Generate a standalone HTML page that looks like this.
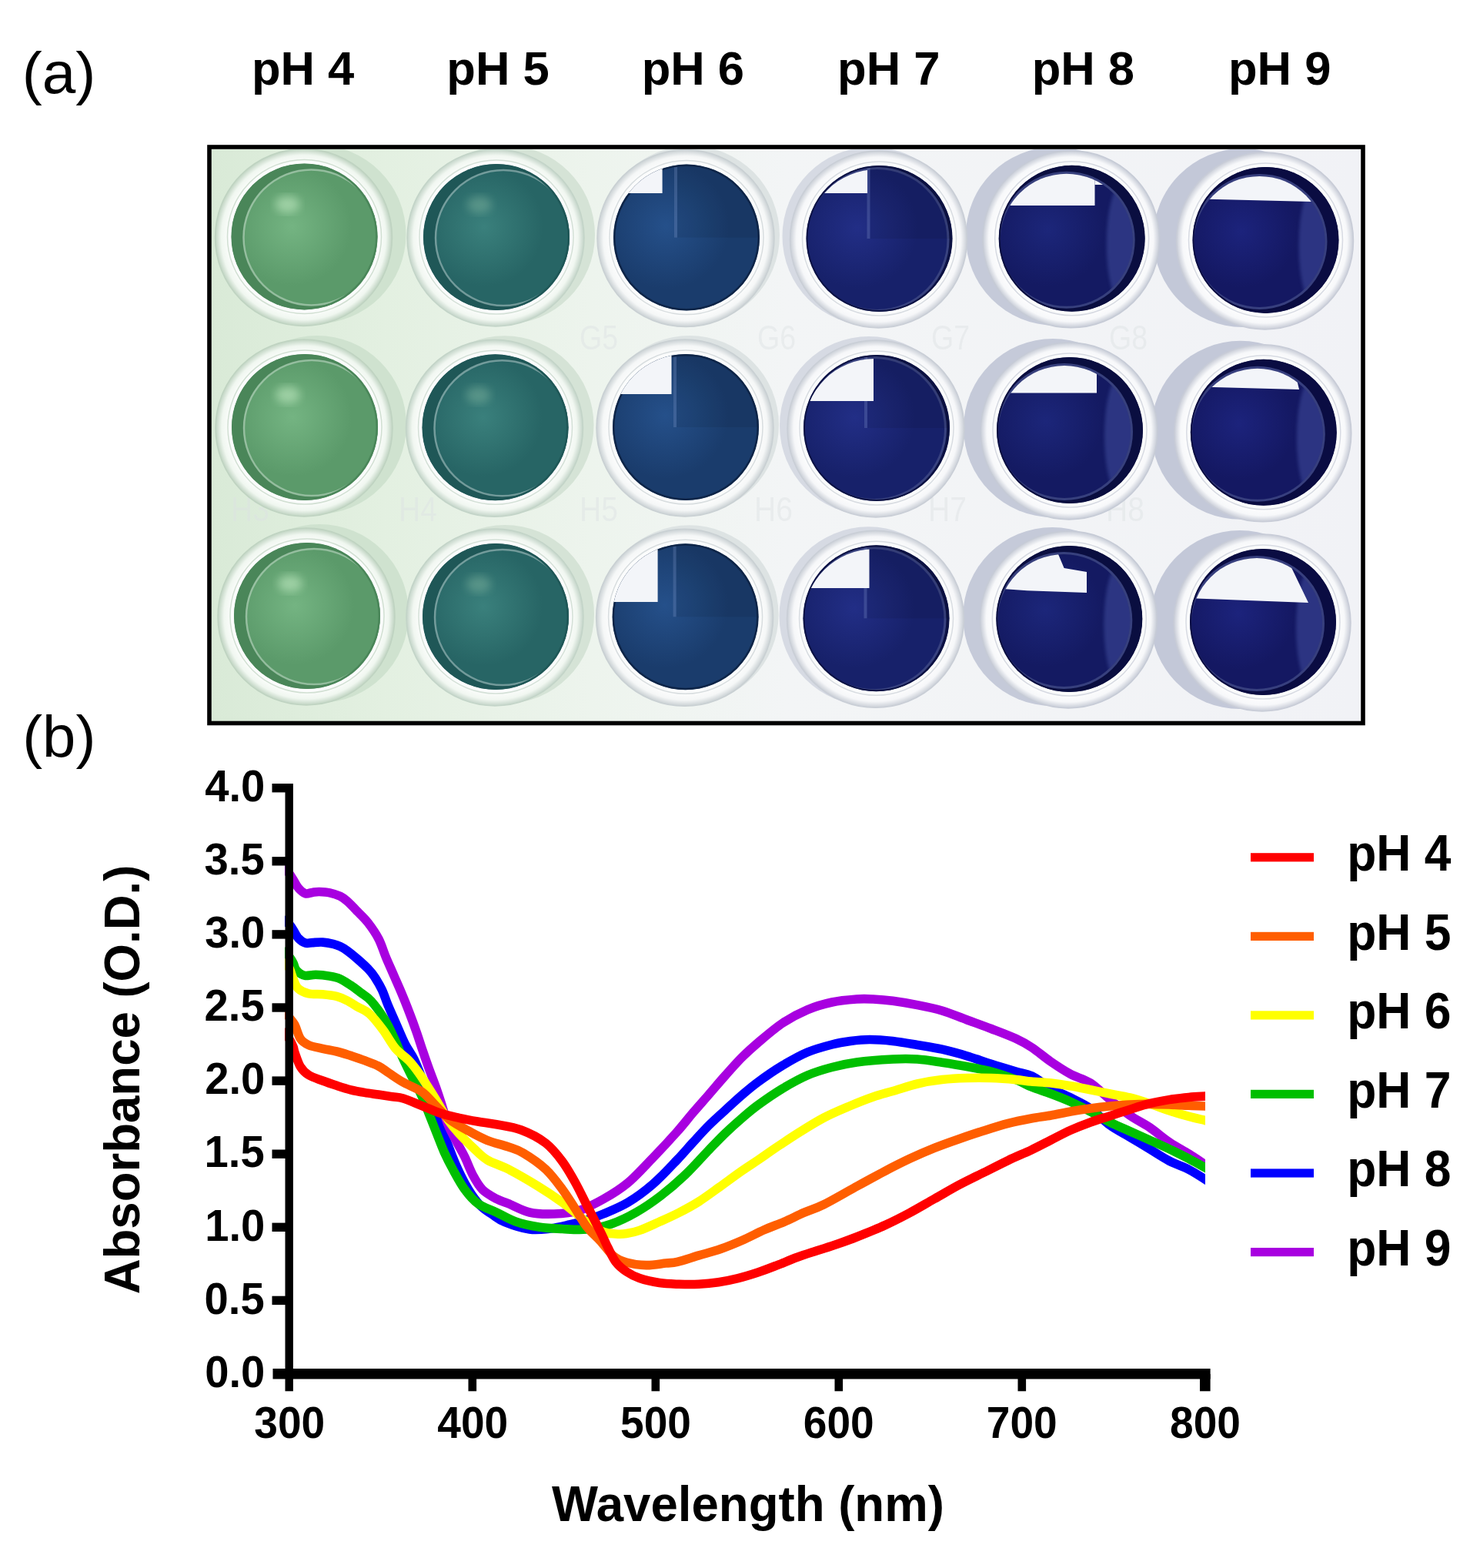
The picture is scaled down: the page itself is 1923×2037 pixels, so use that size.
<!DOCTYPE html>
<html><head><meta charset="utf-8"><title>pH indicator figure</title>
<style>html,body{margin:0;padding:0;background:#fff;} svg{display:block;}</style></head>
<body><svg xmlns="http://www.w3.org/2000/svg" width="1923" height="2037" viewBox="0 0 1923 2037">
<rect width="1923" height="2037" fill="#fff"/>
<defs>
<clipPath id="pclip"><rect x="275" y="194" width="1493" height="743"/></clipPath>
<linearGradient id="bgg" x1="0" y1="0" x2="1" y2="0"><stop offset="0" stop-color="#d9ead7"/><stop offset="0.15" stop-color="#e3f0e1"/><stop offset="0.33" stop-color="#edf4ed"/><stop offset="0.5" stop-color="#f3f5f6"/><stop offset="1" stop-color="#f1f2f6"/></linearGradient>
<filter id="blur2" x="-10%" y="-10%" width="120%" height="120%"><feGaussianBlur stdDeviation="2"/></filter>
<filter id="blur6" x="-20%" y="-20%" width="140%" height="140%"><feGaussianBlur stdDeviation="6"/></filter>
<radialGradient id="lg0" cx="0.36" cy="0.42" r="0.72"><stop offset="0" stop-color="#74b482"/><stop offset="0.6" stop-color="#5b9a6a"/><stop offset="1" stop-color="#5b9a6a"/></radialGradient>
<radialGradient id="rg0" cx="0.5" cy="0.5" r="0.5"><stop offset="0.82" stop-color="#ffffff"/><stop offset="0.93" stop-color="#f0f7f0"/><stop offset="1" stop-color="#bfd3c1"/></radialGradient>
<radialGradient id="lg1" cx="0.36" cy="0.42" r="0.72"><stop offset="0" stop-color="#3a807c"/><stop offset="0.6" stop-color="#276565"/><stop offset="1" stop-color="#276565"/></radialGradient>
<radialGradient id="rg1" cx="0.5" cy="0.5" r="0.5"><stop offset="0.82" stop-color="#ffffff"/><stop offset="0.93" stop-color="#f1f7f1"/><stop offset="1" stop-color="#c3d4c8"/></radialGradient>
<radialGradient id="lg2" cx="0.36" cy="0.42" r="0.72"><stop offset="0" stop-color="#25508a"/><stop offset="0.6" stop-color="#1a3c6c"/><stop offset="1" stop-color="#1a3c6c"/></radialGradient>
<radialGradient id="rg2" cx="0.5" cy="0.5" r="0.5"><stop offset="0.82" stop-color="#ffffff"/><stop offset="0.93" stop-color="#f5f7f7"/><stop offset="1" stop-color="#c9d0d3"/></radialGradient>
<radialGradient id="lg3" cx="0.36" cy="0.42" r="0.72"><stop offset="0" stop-color="#222e86"/><stop offset="0.6" stop-color="#17216a"/><stop offset="1" stop-color="#17216a"/></radialGradient>
<radialGradient id="rg3" cx="0.5" cy="0.5" r="0.5"><stop offset="0.82" stop-color="#ffffff"/><stop offset="0.93" stop-color="#f6f7f9"/><stop offset="1" stop-color="#c9ced6"/></radialGradient>
<radialGradient id="lg4" cx="0.36" cy="0.42" r="0.72"><stop offset="0" stop-color="#1c267a"/><stop offset="0.6" stop-color="#141a62"/><stop offset="1" stop-color="#141a62"/></radialGradient>
<radialGradient id="rg4" cx="0.5" cy="0.5" r="0.5"><stop offset="0.82" stop-color="#ffffff"/><stop offset="0.93" stop-color="#f7f8fa"/><stop offset="1" stop-color="#c6cbd6"/></radialGradient>
<radialGradient id="lg5" cx="0.36" cy="0.42" r="0.72"><stop offset="0" stop-color="#1c237c"/><stop offset="0.6" stop-color="#141862"/><stop offset="1" stop-color="#141862"/></radialGradient>
<radialGradient id="rg5" cx="0.5" cy="0.5" r="0.5"><stop offset="0.82" stop-color="#ffffff"/><stop offset="0.93" stop-color="#f7f8fa"/><stop offset="1" stop-color="#c8ccd7"/></radialGradient>
<clipPath id="lc00"><circle cx="395.5" cy="307.4" r="95"/></clipPath>
<clipPath id="lc01"><circle cx="645" cy="308" r="95"/></clipPath>
<clipPath id="lc02"><circle cx="892" cy="308.6" r="95"/></clipPath>
<clipPath id="lc03"><circle cx="1142.5" cy="310" r="95"/></clipPath>
<clipPath id="ic03"><circle cx="1139.5" cy="311" r="91"/></clipPath>
<clipPath id="lc04"><circle cx="1392.7" cy="309.8" r="95"/></clipPath>
<clipPath id="ic04"><circle cx="1385.7" cy="311.8" r="86"/></clipPath>
<clipPath id="lc05"><circle cx="1644.5" cy="311.9" r="95"/></clipPath>
<clipPath id="ic05"><circle cx="1636.5" cy="313.9" r="85"/></clipPath>
<clipPath id="lc10"><circle cx="396" cy="555" r="95"/></clipPath>
<clipPath id="lc11"><circle cx="643.5" cy="555.3" r="95"/></clipPath>
<clipPath id="lc12"><circle cx="891" cy="555" r="95"/></clipPath>
<clipPath id="lc13"><circle cx="1139" cy="556" r="95"/></clipPath>
<clipPath id="ic13"><circle cx="1136" cy="557" r="91"/></clipPath>
<clipPath id="lc14"><circle cx="1390" cy="559" r="95"/></clipPath>
<clipPath id="ic14"><circle cx="1383" cy="561" r="86"/></clipPath>
<clipPath id="lc15"><circle cx="1641.8" cy="561.8" r="95"/></clipPath>
<clipPath id="ic15"><circle cx="1633.8" cy="563.8" r="85"/></clipPath>
<clipPath id="lc20"><circle cx="399" cy="800" r="95"/></clipPath>
<clipPath id="lc21"><circle cx="644" cy="801" r="95"/></clipPath>
<clipPath id="lc22"><circle cx="890.6" cy="801.3" r="95"/></clipPath>
<clipPath id="lc23"><circle cx="1138.5" cy="803.3" r="95"/></clipPath>
<clipPath id="ic23"><circle cx="1135.5" cy="804.3" r="91"/></clipPath>
<clipPath id="lc24"><circle cx="1389.3" cy="804" r="95"/></clipPath>
<clipPath id="ic24"><circle cx="1382.3" cy="806" r="86"/></clipPath>
<clipPath id="lc25"><circle cx="1641" cy="808" r="95"/></clipPath>
<clipPath id="ic25"><circle cx="1633" cy="810" r="85"/></clipPath>
</defs>
<g clip-path="url(#pclip)">
<rect x="275" y="194" width="1493" height="743" fill="url(#bgg)"/>
<circle cx="411.5" cy="304.4" r="116" fill="#cfe2cf"/>
<circle cx="657" cy="305" r="116" fill="#d5e3d6"/>
<circle cx="897" cy="305.6" r="116" fill="#dde3e3"/>
<circle cx="1132.5" cy="307" r="116" fill="#d6dae3"/>
<circle cx="1370.7" cy="306.8" r="116" fill="#c5cad9"/>
<circle cx="1614.5" cy="308.9" r="116" fill="#c3c8d8"/>
<circle cx="412" cy="552" r="116" fill="#cfe2cf"/>
<circle cx="655.5" cy="552.3" r="116" fill="#d5e3d6"/>
<circle cx="896" cy="552" r="116" fill="#dde3e3"/>
<circle cx="1129" cy="553" r="116" fill="#d6dae3"/>
<circle cx="1368" cy="556" r="116" fill="#c5cad9"/>
<circle cx="1611.8" cy="558.8" r="116" fill="#c3c8d8"/>
<circle cx="415" cy="797" r="116" fill="#cfe2cf"/>
<circle cx="656" cy="798" r="116" fill="#d5e3d6"/>
<circle cx="895.6" cy="798.3" r="116" fill="#dde3e3"/>
<circle cx="1128.5" cy="800.3" r="116" fill="#d6dae3"/>
<circle cx="1367.3" cy="801" r="116" fill="#c5cad9"/>
<circle cx="1611" cy="805" r="116" fill="#c3c8d8"/>
<g font-family="Liberation Sans, Arial, sans-serif" font-size="44" fill="#dde2e4" opacity="0.45">
<text x="753" y="454" textLength="50" lengthAdjust="spacingAndGlyphs">G5</text>
<text x="984" y="454" textLength="50" lengthAdjust="spacingAndGlyphs">G6</text>
<text x="1210" y="454" textLength="50" lengthAdjust="spacingAndGlyphs">G7</text>
<text x="1441" y="454" textLength="50" lengthAdjust="spacingAndGlyphs">G8</text>
<text x="300" y="677" textLength="50" lengthAdjust="spacingAndGlyphs">H3</text>
<text x="518" y="677" textLength="50" lengthAdjust="spacingAndGlyphs">H4</text>
<text x="753" y="677" textLength="50" lengthAdjust="spacingAndGlyphs">H5</text>
<text x="980" y="677" textLength="50" lengthAdjust="spacingAndGlyphs">H6</text>
<text x="1206" y="677" textLength="50" lengthAdjust="spacingAndGlyphs">H7</text>
<text x="1437" y="677" textLength="50" lengthAdjust="spacingAndGlyphs">H8</text>
</g>
<circle cx="394.5" cy="308.4" r="115" fill="url(#rg0)"/>
<circle cx="394.5" cy="308.4" r="115" fill="none" stroke="#bfd3c1" stroke-width="1.5"/>
<circle cx="395.5" cy="307.4" r="100" fill="#fbfcfc" stroke="#bfd3c1" stroke-opacity="0.7" stroke-width="1.5"/>
<g clip-path="url(#lc00)">
<circle cx="395.5" cy="307.4" r="95" fill="#4a8659"/>
<circle cx="404.5" cy="308.4" r="89" fill="url(#lg0)"/>
<circle cx="404.5" cy="308.4" r="88" fill="none" stroke="#ffffff" stroke-opacity="0.35" stroke-width="2.5"/>
<ellipse cx="373.5" cy="265.4" rx="16" ry="11" fill="#c8f0c8" opacity="0.55" filter="url(#blur6)"/>
<circle cx="395.5" cy="307.4" r="95" fill="none" stroke="#4a8659" stroke-width="5"/>
<g>
</g>
</g>
<circle cx="644" cy="309" r="115" fill="url(#rg1)"/>
<circle cx="644" cy="309" r="115" fill="none" stroke="#c3d4c8" stroke-width="1.5"/>
<circle cx="645" cy="308" r="100" fill="#fbfcfc" stroke="#c3d4c8" stroke-opacity="0.7" stroke-width="1.5"/>
<g clip-path="url(#lc01)">
<circle cx="645" cy="308" r="95" fill="#1f5757"/>
<circle cx="654" cy="309" r="89" fill="url(#lg1)"/>
<circle cx="654" cy="309" r="88" fill="none" stroke="#ffffff" stroke-opacity="0.35" stroke-width="2.5"/>
<ellipse cx="623" cy="266" rx="16" ry="11" fill="#c8f0c8" opacity="0.25" filter="url(#blur6)"/>
<circle cx="645" cy="308" r="95" fill="none" stroke="#1f5757" stroke-width="5"/>
<g>
</g>
</g>
<circle cx="891" cy="309.6" r="115" fill="url(#rg2)"/>
<circle cx="891" cy="309.6" r="115" fill="none" stroke="#c9d0d3" stroke-width="1.5"/>
<circle cx="892" cy="308.6" r="100" fill="#fbfcfc" stroke="#c9d0d3" stroke-opacity="0.7" stroke-width="1.5"/>
<g clip-path="url(#lc02)">
<circle cx="892" cy="308.6" r="95" fill="url(#lg2)"/>
<rect x="880" y="208.60000000000002" width="120" height="100" fill="#000" opacity="0.07"/>
<rect x="876" y="212.60000000000002" width="4" height="96" fill="#8aa0d0" opacity="0.25"/>
<circle cx="892" cy="308.6" r="95" fill="none" stroke="#0e2548" stroke-width="5"/>
<g>
<polygon points="780.0,180.0 860.6,180.0 860.6,251.0 780.0,251.0" fill="#f3f5f9" />
</g>
</g>
<circle cx="1141.5" cy="311" r="115" fill="url(#rg3)"/>
<circle cx="1141.5" cy="311" r="115" fill="none" stroke="#c9ced6" stroke-width="1.5"/>
<circle cx="1142.5" cy="310" r="100" fill="#fbfcfc" stroke="#c9ced6" stroke-opacity="0.7" stroke-width="1.5"/>
<g clip-path="url(#lc03)">
<circle cx="1142.5" cy="310" r="95" fill="#0c1244"/>
<circle cx="1139.5" cy="311" r="94" fill="#6f7fc8" opacity="0.45"/>
<circle cx="1139.5" cy="311" r="91" fill="url(#lg3)"/>
<rect x="1130.5" y="210" width="120" height="100" fill="#000" opacity="0.07"/>
<rect x="1126.5" y="214" width="4" height="96" fill="#8aa0d0" opacity="0.25"/>
<circle cx="1142.5" cy="310" r="95" fill="none" stroke="#0c1244" stroke-width="4"/>
<g clip-path="url(#ic03)">
<polygon points="1030.0,200.0 1127.0,200.0 1127.0,251.0 1030.0,251.0" fill="#f3f5f9" />
</g>
</g>
<circle cx="1391.7" cy="310.8" r="115" fill="url(#rg4)"/>
<circle cx="1391.7" cy="310.8" r="115" fill="none" stroke="#c6cbd6" stroke-width="1.5"/>
<circle cx="1392.7" cy="309.8" r="100" fill="#fbfcfc" stroke="#c6cbd6" stroke-opacity="0.7" stroke-width="1.5"/>
<g clip-path="url(#lc04)">
<circle cx="1392.7" cy="309.8" r="95" fill="#0a0e40"/>
<circle cx="1385.7" cy="311.8" r="89" fill="#6f7fc8" opacity="0.45"/>
<circle cx="1385.7" cy="311.8" r="86" fill="url(#lg4)"/>
<g clip-path="url(#ic04)"><ellipse cx="1459.7" cy="316.8" rx="22" ry="80" fill="#5a6cc0" opacity="0.35" filter="url(#blur2)"/></g>
<circle cx="1392.7" cy="309.8" r="95" fill="none" stroke="#0a0e40" stroke-width="4"/>
<g clip-path="url(#ic04)">
<polygon points="1290.0,200.0 1422.5,200.0 1422.5,240.0 1455.0,240.0 1455.0,200.0" fill="#f3f5f9" />
<polygon points="1290.0,200.0 1422.5,200.0 1422.5,267.0 1290.0,267.0" fill="#f3f5f9" />
</g>
</g>
<circle cx="1643.5" cy="312.9" r="115" fill="url(#rg5)"/>
<circle cx="1643.5" cy="312.9" r="115" fill="none" stroke="#c8ccd7" stroke-width="1.5"/>
<circle cx="1644.5" cy="311.9" r="100" fill="#fbfcfc" stroke="#c8ccd7" stroke-opacity="0.7" stroke-width="1.5"/>
<g clip-path="url(#lc05)">
<circle cx="1644.5" cy="311.9" r="95" fill="#0a0c42"/>
<circle cx="1636.5" cy="313.9" r="88" fill="#6f7fc8" opacity="0.45"/>
<circle cx="1636.5" cy="313.9" r="85" fill="url(#lg5)"/>
<g clip-path="url(#ic05)"><ellipse cx="1709.5" cy="318.9" rx="22" ry="80" fill="#5a6cc0" opacity="0.35" filter="url(#blur2)"/></g>
<circle cx="1644.5" cy="311.9" r="95" fill="none" stroke="#0a0c42" stroke-width="4"/>
<g clip-path="url(#ic05)">
<polygon points="1540.0,200.0 1690.0,200.0 1704.0,262.0 1540.0,258.0" fill="#f3f5f9" />
</g>
</g>
<circle cx="395" cy="556" r="115" fill="url(#rg0)"/>
<circle cx="395" cy="556" r="115" fill="none" stroke="#bfd3c1" stroke-width="1.5"/>
<circle cx="396" cy="555" r="100" fill="#fbfcfc" stroke="#bfd3c1" stroke-opacity="0.7" stroke-width="1.5"/>
<g clip-path="url(#lc10)">
<circle cx="396" cy="555" r="95" fill="#4a8659"/>
<circle cx="405" cy="556" r="89" fill="url(#lg0)"/>
<circle cx="405" cy="556" r="88" fill="none" stroke="#ffffff" stroke-opacity="0.35" stroke-width="2.5"/>
<ellipse cx="374" cy="513" rx="16" ry="11" fill="#c8f0c8" opacity="0.55" filter="url(#blur6)"/>
<circle cx="396" cy="555" r="95" fill="none" stroke="#4a8659" stroke-width="5"/>
<g>
</g>
</g>
<circle cx="642.5" cy="556.3" r="115" fill="url(#rg1)"/>
<circle cx="642.5" cy="556.3" r="115" fill="none" stroke="#c3d4c8" stroke-width="1.5"/>
<circle cx="643.5" cy="555.3" r="100" fill="#fbfcfc" stroke="#c3d4c8" stroke-opacity="0.7" stroke-width="1.5"/>
<g clip-path="url(#lc11)">
<circle cx="643.5" cy="555.3" r="95" fill="#1f5757"/>
<circle cx="652.5" cy="556.3" r="89" fill="url(#lg1)"/>
<circle cx="652.5" cy="556.3" r="88" fill="none" stroke="#ffffff" stroke-opacity="0.35" stroke-width="2.5"/>
<ellipse cx="621.5" cy="513.3" rx="16" ry="11" fill="#c8f0c8" opacity="0.25" filter="url(#blur6)"/>
<circle cx="643.5" cy="555.3" r="95" fill="none" stroke="#1f5757" stroke-width="5"/>
<g>
</g>
</g>
<circle cx="890" cy="556" r="115" fill="url(#rg2)"/>
<circle cx="890" cy="556" r="115" fill="none" stroke="#c9d0d3" stroke-width="1.5"/>
<circle cx="891" cy="555" r="100" fill="#fbfcfc" stroke="#c9d0d3" stroke-opacity="0.7" stroke-width="1.5"/>
<g clip-path="url(#lc12)">
<circle cx="891" cy="555" r="95" fill="url(#lg2)"/>
<rect x="879" y="455" width="120" height="100" fill="#000" opacity="0.07"/>
<rect x="875" y="459" width="4" height="96" fill="#8aa0d0" opacity="0.25"/>
<circle cx="891" cy="555" r="95" fill="none" stroke="#0e2548" stroke-width="5"/>
<g>
<polygon points="780.0,440.0 872.5,440.0 872.5,512.0 780.0,512.0" fill="#f3f5f9" />
</g>
</g>
<circle cx="1138" cy="557" r="115" fill="url(#rg3)"/>
<circle cx="1138" cy="557" r="115" fill="none" stroke="#c9ced6" stroke-width="1.5"/>
<circle cx="1139" cy="556" r="100" fill="#fbfcfc" stroke="#c9ced6" stroke-opacity="0.7" stroke-width="1.5"/>
<g clip-path="url(#lc13)">
<circle cx="1139" cy="556" r="95" fill="#0c1244"/>
<circle cx="1136" cy="557" r="94" fill="#6f7fc8" opacity="0.45"/>
<circle cx="1136" cy="557" r="91" fill="url(#lg3)"/>
<rect x="1127" y="456" width="120" height="100" fill="#000" opacity="0.07"/>
<rect x="1123" y="460" width="4" height="96" fill="#8aa0d0" opacity="0.25"/>
<circle cx="1139" cy="556" r="95" fill="none" stroke="#0c1244" stroke-width="4"/>
<g clip-path="url(#ic13)">
<polygon points="1030.0,440.0 1135.0,440.0 1135.0,521.0 1030.0,521.0" fill="#f3f5f9" />
</g>
</g>
<circle cx="1389" cy="560" r="115" fill="url(#rg4)"/>
<circle cx="1389" cy="560" r="115" fill="none" stroke="#c6cbd6" stroke-width="1.5"/>
<circle cx="1390" cy="559" r="100" fill="#fbfcfc" stroke="#c6cbd6" stroke-opacity="0.7" stroke-width="1.5"/>
<g clip-path="url(#lc14)">
<circle cx="1390" cy="559" r="95" fill="#0a0e40"/>
<circle cx="1383" cy="561" r="89" fill="#6f7fc8" opacity="0.45"/>
<circle cx="1383" cy="561" r="86" fill="url(#lg4)"/>
<g clip-path="url(#ic14)"><ellipse cx="1457" cy="566" rx="22" ry="80" fill="#5a6cc0" opacity="0.35" filter="url(#blur2)"/></g>
<circle cx="1390" cy="559" r="95" fill="none" stroke="#0a0e40" stroke-width="4"/>
<g clip-path="url(#ic14)">
<polygon points="1290.0,440.0 1425.0,440.0 1425.0,486.0 1445.0,486.0 1445.0,440.0" fill="#f3f5f9" />
<polygon points="1290.0,440.0 1425.0,440.0 1425.0,510.4 1290.0,510.4" fill="#f3f5f9" />
</g>
</g>
<circle cx="1640.8" cy="562.8" r="115" fill="url(#rg5)"/>
<circle cx="1640.8" cy="562.8" r="115" fill="none" stroke="#c8ccd7" stroke-width="1.5"/>
<circle cx="1641.8" cy="561.8" r="100" fill="#fbfcfc" stroke="#c8ccd7" stroke-opacity="0.7" stroke-width="1.5"/>
<g clip-path="url(#lc15)">
<circle cx="1641.8" cy="561.8" r="95" fill="#0a0c42"/>
<circle cx="1633.8" cy="563.8" r="88" fill="#6f7fc8" opacity="0.45"/>
<circle cx="1633.8" cy="563.8" r="85" fill="url(#lg5)"/>
<g clip-path="url(#ic15)"><ellipse cx="1706.8" cy="568.8" rx="22" ry="80" fill="#5a6cc0" opacity="0.35" filter="url(#blur2)"/></g>
<circle cx="1641.8" cy="561.8" r="95" fill="none" stroke="#0a0c42" stroke-width="4"/>
<g clip-path="url(#ic15)">
<polygon points="1540.0,450.0 1675.0,450.0 1688.0,506.0 1540.0,502.0" fill="#f3f5f9" />
</g>
</g>
<circle cx="398" cy="801" r="115" fill="url(#rg0)"/>
<circle cx="398" cy="801" r="115" fill="none" stroke="#bfd3c1" stroke-width="1.5"/>
<circle cx="399" cy="800" r="100" fill="#fbfcfc" stroke="#bfd3c1" stroke-opacity="0.7" stroke-width="1.5"/>
<g clip-path="url(#lc20)">
<circle cx="399" cy="800" r="95" fill="#4a8659"/>
<circle cx="408" cy="801" r="89" fill="url(#lg0)"/>
<circle cx="408" cy="801" r="88" fill="none" stroke="#ffffff" stroke-opacity="0.35" stroke-width="2.5"/>
<ellipse cx="377" cy="758" rx="16" ry="11" fill="#c8f0c8" opacity="0.55" filter="url(#blur6)"/>
<circle cx="399" cy="800" r="95" fill="none" stroke="#4a8659" stroke-width="5"/>
<g>
</g>
</g>
<circle cx="643" cy="802" r="115" fill="url(#rg1)"/>
<circle cx="643" cy="802" r="115" fill="none" stroke="#c3d4c8" stroke-width="1.5"/>
<circle cx="644" cy="801" r="100" fill="#fbfcfc" stroke="#c3d4c8" stroke-opacity="0.7" stroke-width="1.5"/>
<g clip-path="url(#lc21)">
<circle cx="644" cy="801" r="95" fill="#1f5757"/>
<circle cx="653" cy="802" r="89" fill="url(#lg1)"/>
<circle cx="653" cy="802" r="88" fill="none" stroke="#ffffff" stroke-opacity="0.35" stroke-width="2.5"/>
<ellipse cx="622" cy="759" rx="16" ry="11" fill="#c8f0c8" opacity="0.25" filter="url(#blur6)"/>
<circle cx="644" cy="801" r="95" fill="none" stroke="#1f5757" stroke-width="5"/>
<g>
</g>
</g>
<circle cx="889.6" cy="802.3" r="115" fill="url(#rg2)"/>
<circle cx="889.6" cy="802.3" r="115" fill="none" stroke="#c9d0d3" stroke-width="1.5"/>
<circle cx="890.6" cy="801.3" r="100" fill="#fbfcfc" stroke="#c9d0d3" stroke-opacity="0.7" stroke-width="1.5"/>
<g clip-path="url(#lc22)">
<circle cx="890.6" cy="801.3" r="95" fill="url(#lg2)"/>
<rect x="878.6" y="701.3" width="120" height="100" fill="#000" opacity="0.07"/>
<rect x="874.6" y="705.3" width="4" height="96" fill="#8aa0d0" opacity="0.25"/>
<circle cx="890.6" cy="801.3" r="95" fill="none" stroke="#0e2548" stroke-width="5"/>
<g>
<polygon points="780.0,690.0 854.6,690.0 854.6,782.0 780.0,782.0" fill="#f3f5f9" />
</g>
</g>
<circle cx="1137.5" cy="804.3" r="115" fill="url(#rg3)"/>
<circle cx="1137.5" cy="804.3" r="115" fill="none" stroke="#c9ced6" stroke-width="1.5"/>
<circle cx="1138.5" cy="803.3" r="100" fill="#fbfcfc" stroke="#c9ced6" stroke-opacity="0.7" stroke-width="1.5"/>
<g clip-path="url(#lc23)">
<circle cx="1138.5" cy="803.3" r="95" fill="#0c1244"/>
<circle cx="1135.5" cy="804.3" r="94" fill="#6f7fc8" opacity="0.45"/>
<circle cx="1135.5" cy="804.3" r="91" fill="url(#lg3)"/>
<rect x="1126.5" y="703.3" width="120" height="100" fill="#000" opacity="0.07"/>
<rect x="1122.5" y="707.3" width="4" height="96" fill="#8aa0d0" opacity="0.25"/>
<circle cx="1138.5" cy="803.3" r="95" fill="none" stroke="#0c1244" stroke-width="4"/>
<g clip-path="url(#ic23)">
<polygon points="1030.0,690.0 1129.5,690.0 1129.5,764.0 1030.0,764.0" fill="#f3f5f9" />
</g>
</g>
<circle cx="1388.3" cy="805" r="115" fill="url(#rg4)"/>
<circle cx="1388.3" cy="805" r="115" fill="none" stroke="#c6cbd6" stroke-width="1.5"/>
<circle cx="1389.3" cy="804" r="100" fill="#fbfcfc" stroke="#c6cbd6" stroke-opacity="0.7" stroke-width="1.5"/>
<g clip-path="url(#lc24)">
<circle cx="1389.3" cy="804" r="95" fill="#0a0e40"/>
<circle cx="1382.3" cy="806" r="89" fill="#6f7fc8" opacity="0.45"/>
<circle cx="1382.3" cy="806" r="86" fill="url(#lg4)"/>
<g clip-path="url(#ic24)"><ellipse cx="1456.3" cy="811" rx="22" ry="80" fill="#5a6cc0" opacity="0.35" filter="url(#blur2)"/></g>
<circle cx="1389.3" cy="804" r="95" fill="none" stroke="#0a0e40" stroke-width="4"/>
<g clip-path="url(#ic24)">
<polygon points="1290.0,690.0 1374.6,690.0 1374.6,719.0 1382.6,738.0 1412.0,743.0 1412.0,770.0 1334.6,767.3 1290.0,764.0" fill="#f3f5f9" />
</g>
</g>
<circle cx="1640" cy="809" r="115" fill="url(#rg5)"/>
<circle cx="1640" cy="809" r="115" fill="none" stroke="#c8ccd7" stroke-width="1.5"/>
<circle cx="1641" cy="808" r="100" fill="#fbfcfc" stroke="#c8ccd7" stroke-opacity="0.7" stroke-width="1.5"/>
<g clip-path="url(#lc25)">
<circle cx="1641" cy="808" r="95" fill="#0a0c42"/>
<circle cx="1633" cy="810" r="88" fill="#6f7fc8" opacity="0.45"/>
<circle cx="1633" cy="810" r="85" fill="url(#lg5)"/>
<g clip-path="url(#ic25)"><ellipse cx="1706" cy="815" rx="22" ry="80" fill="#5a6cc0" opacity="0.35" filter="url(#blur2)"/></g>
<circle cx="1641" cy="808" r="95" fill="none" stroke="#0a0c42" stroke-width="4"/>
<g clip-path="url(#ic25)">
<polygon points="1540.0,700.0 1660.0,700.0 1700.0,783.0 1540.0,777.0" fill="#f3f5f9" />
</g>
</g>
</g>
<rect x="272" y="191" width="1499" height="748.5" fill="none" stroke="#000" stroke-width="5.6"/>
<g font-family="Liberation Sans, Arial, sans-serif" font-size="100" fill="#000">
<text transform="translate(28.70,121.20) scale(0.7827,0.7617)" font-weight="normal" >(a)</text>
<text transform="translate(29.13,983.16) scale(0.7791,0.7543)" font-weight="normal" >(b)</text>
<text transform="translate(326.89,110.43) scale(0.6158,0.6178)" font-weight="bold" text-anchor="start">pH 4</text>
<text transform="translate(580.29,110.43) scale(0.6158,0.6178)" font-weight="bold" text-anchor="start">pH 5</text>
<text transform="translate(833.69,110.43) scale(0.6158,0.6178)" font-weight="bold" text-anchor="start">pH 6</text>
<text transform="translate(1088.09,110.43) scale(0.6158,0.6178)" font-weight="bold" text-anchor="start">pH 7</text>
<text transform="translate(1340.69,110.43) scale(0.6158,0.6178)" font-weight="bold" text-anchor="start">pH 8</text>
<text transform="translate(1595.99,110.43) scale(0.6158,0.6178)" font-weight="bold" text-anchor="start">pH 9</text>
<text transform="translate(266.13,1801.76) scale(0.5620,0.5780)" font-weight="bold" text-anchor="start">0.0</text>
<text transform="translate(265.57,1706.66) scale(0.5620,0.5780)" font-weight="bold" text-anchor="start">0.5</text>
<text transform="translate(266.13,1611.56) scale(0.5620,0.5780)" font-weight="bold" text-anchor="start">1.0</text>
<text transform="translate(265.57,1515.88) scale(0.5620,0.5780)" font-weight="bold" text-anchor="start">1.5</text>
<text transform="translate(266.13,1421.36) scale(0.5620,0.5780)" font-weight="bold" text-anchor="start">2.0</text>
<text transform="translate(265.57,1326.26) scale(0.5620,0.5780)" font-weight="bold" text-anchor="start">2.5</text>
<text transform="translate(266.13,1231.16) scale(0.5620,0.5780)" font-weight="bold" text-anchor="start">3.0</text>
<text transform="translate(265.57,1136.06) scale(0.5620,0.5780)" font-weight="bold" text-anchor="start">3.5</text>
<text transform="translate(266.13,1040.96) scale(0.5620,0.5780)" font-weight="bold" text-anchor="start">4.0</text>
<text transform="translate(330.29,1868.09) scale(0.5510,0.5770)" font-weight="bold" text-anchor="start">300</text>
<text transform="translate(568.29,1868.09) scale(0.5510,0.5770)" font-weight="bold" text-anchor="start">400</text>
<text transform="translate(806.02,1868.09) scale(0.5510,0.5770)" font-weight="bold" text-anchor="start">500</text>
<text transform="translate(1043.74,1868.09) scale(0.5510,0.5770)" font-weight="bold" text-anchor="start">600</text>
<text transform="translate(1281.74,1868.09) scale(0.5510,0.5770)" font-weight="bold" text-anchor="start">700</text>
<text transform="translate(1520.02,1868.09) scale(0.5510,0.5770)" font-weight="bold" text-anchor="start">800</text>
<text transform="translate(717.00,1976.48) scale(0.6361,0.6436)" font-weight="bold" >Wavelength (nm)</text>
<text transform="translate(181.04,1681.31) rotate(-90) scale(0.6353,0.6457)" font-weight="bold">Absorbance (O.D.)</text>
<text transform="translate(1750.13,1131.26) scale(0.6244,0.6589)" font-weight="bold" text-anchor="start">pH 4</text>
<text transform="translate(1750.13,1233.81) scale(0.6244,0.6589)" font-weight="bold" text-anchor="start">pH 5</text>
<text transform="translate(1750.13,1336.36) scale(0.6244,0.6589)" font-weight="bold" text-anchor="start">pH 6</text>
<text transform="translate(1750.13,1438.91) scale(0.6244,0.6589)" font-weight="bold" text-anchor="start">pH 7</text>
<text transform="translate(1750.13,1541.46) scale(0.6244,0.6589)" font-weight="bold" text-anchor="start">pH 8</text>
<text transform="translate(1750.13,1644.01) scale(0.6244,0.6589)" font-weight="bold" text-anchor="start">pH 9</text>
</g>
<defs><clipPath id="cclip"><rect x="370" y="1000" width="1196" height="780"/></clipPath></defs>
<g fill="none" stroke-width="11.6" stroke-linejoin="round" stroke-linecap="butt" clip-path="url(#cclip)">
<path d="M365.0,1193.0 C366.0,1193.7 369.2,1195.7 371.0,1197.0 C372.8,1198.3 374.3,1199.2 376.0,1201.0 C377.7,1202.8 379.1,1205.0 381.0,1208.0 C382.9,1211.0 385.0,1215.9 387.6,1218.7 C390.2,1221.5 393.7,1224.0 396.7,1225.0 C399.7,1226.0 402.0,1224.8 405.8,1224.6 C409.6,1224.4 414.9,1223.8 419.4,1224.1 C423.9,1224.4 429.2,1225.5 433.0,1226.4 C436.8,1227.3 439.0,1228.2 442.0,1229.6 C445.0,1231.0 447.2,1232.3 451.0,1235.0 C454.8,1237.7 460.1,1242.1 464.6,1246.0 C469.1,1249.9 474.4,1254.6 478.2,1258.6 C482.0,1262.6 484.3,1265.4 487.3,1270.0 C490.3,1274.6 493.6,1280.0 496.4,1286.0 C499.2,1292.0 501.0,1298.4 504.2,1306.0 C507.4,1313.6 511.6,1323.0 515.4,1331.5 C519.1,1340.0 522.9,1349.5 526.7,1356.9 C530.5,1364.3 534.5,1368.8 538.0,1376.0 C541.5,1383.2 544.7,1391.3 548.0,1400.0 C551.3,1408.7 554.7,1419.3 558.0,1428.0 C561.3,1436.7 564.3,1443.0 568.0,1452.0 C571.7,1461.0 575.7,1471.2 580.0,1482.0 C584.3,1492.8 589.2,1506.5 594.0,1517.0 C598.8,1527.5 603.7,1537.1 608.7,1545.3 C613.7,1553.5 618.8,1560.5 624.0,1566.0 C629.2,1571.5 634.7,1574.4 640.0,1578.0 C645.3,1581.6 648.0,1584.4 656.0,1587.6 C664.0,1590.8 678.2,1595.6 688.0,1597.0 C697.8,1598.4 706.3,1597.0 715.0,1596.0 C723.7,1595.0 732.2,1592.8 740.0,1591.0 C747.8,1589.2 754.7,1587.3 762.0,1585.0 C769.3,1582.7 775.0,1580.8 784.0,1577.0 C793.0,1573.2 805.3,1568.4 816.0,1562.0 C826.7,1555.6 837.3,1547.8 848.0,1538.6 C858.7,1529.4 871.3,1515.6 880.0,1506.6 C888.7,1497.6 893.2,1491.9 900.0,1484.5 C906.8,1477.1 913.9,1469.1 921.0,1462.0 C928.1,1454.9 935.4,1448.5 942.6,1442.0 C949.8,1435.5 956.9,1428.8 964.0,1422.7 C971.1,1416.6 976.2,1412.0 985.0,1405.6 C993.8,1399.1 1006.3,1390.4 1017.0,1384.0 C1027.7,1377.6 1038.3,1371.5 1049.0,1367.0 C1059.7,1362.5 1071.7,1359.4 1081.0,1357.0 C1090.3,1354.6 1096.8,1353.6 1105.0,1352.5 C1113.2,1351.4 1120.8,1350.5 1130.0,1350.5 C1139.2,1350.5 1149.7,1351.3 1160.0,1352.5 C1170.3,1353.7 1181.3,1355.7 1192.0,1357.5 C1202.7,1359.3 1213.3,1360.8 1224.0,1363.2 C1234.7,1365.6 1245.3,1368.5 1256.0,1371.7 C1266.7,1374.9 1277.3,1378.9 1288.0,1382.3 C1298.7,1385.7 1311.2,1389.4 1320.0,1392.0 C1328.8,1394.6 1333.4,1394.3 1341.0,1398.0 C1348.6,1401.7 1357.3,1409.3 1365.6,1414.0 C1373.9,1418.7 1382.5,1421.7 1391.0,1426.0 C1399.5,1430.3 1408.2,1434.0 1416.8,1440.0 C1425.3,1446.0 1433.8,1455.7 1442.3,1461.9 C1450.8,1468.1 1459.5,1472.1 1468.0,1477.2 C1476.5,1482.3 1485.0,1487.5 1493.5,1492.6 C1502.0,1497.7 1510.5,1503.5 1519.0,1508.0 C1527.5,1512.5 1536.9,1515.4 1544.7,1519.4 C1552.5,1523.4 1561.1,1529.3 1566.0,1532.2 C1570.9,1535.1 1572.7,1536.2 1574.0,1537.0" stroke="#0000ff"/>
<path d="M365.0,1126.0 C366.0,1126.7 369.2,1128.5 371.0,1130.0 C372.8,1131.5 374.4,1132.9 376.0,1135.0 C377.6,1137.1 379.0,1139.5 380.9,1142.6 C382.8,1145.7 385.0,1150.5 387.6,1153.5 C390.2,1156.5 393.7,1159.7 396.7,1160.7 C399.7,1161.7 402.8,1159.8 405.8,1159.4 C408.8,1159.0 411.0,1158.4 414.8,1158.5 C418.6,1158.6 423.9,1158.8 428.4,1159.8 C432.9,1160.8 438.2,1162.5 442.0,1164.3 C445.8,1166.1 447.2,1167.4 451.0,1170.7 C454.8,1174.0 460.1,1179.6 464.6,1184.3 C469.1,1189.0 473.6,1192.8 478.2,1198.8 C482.8,1204.8 488.2,1212.4 492.1,1220.0 C496.0,1227.6 498.3,1236.2 501.7,1244.2 C505.1,1252.2 508.7,1260.2 512.2,1268.3 C515.7,1276.3 519.4,1284.5 522.7,1292.5 C526.1,1300.5 529.2,1308.5 532.3,1316.6 C535.4,1324.6 538.4,1332.8 541.2,1340.8 C544.0,1348.8 546.4,1356.7 549.2,1364.9 C552.0,1373.1 555.1,1382.1 558.0,1390.0 C560.9,1397.9 563.8,1405.1 566.4,1412.5 C569.0,1419.9 571.1,1426.2 573.7,1434.2 C576.3,1442.2 578.6,1452.3 582.0,1460.8 C585.4,1469.3 590.6,1478.0 594.2,1485.0 C597.9,1492.0 600.5,1496.0 603.9,1503.0 C607.3,1510.0 610.9,1520.2 614.7,1527.2 C618.5,1534.2 621.8,1540.3 626.8,1545.3 C631.8,1550.3 639.5,1554.4 645.0,1557.4 C650.5,1560.4 652.8,1560.5 660.0,1563.4 C667.2,1566.3 678.0,1572.7 688.0,1575.0 C698.0,1577.3 709.3,1577.4 720.0,1577.0 C730.7,1576.6 741.3,1575.9 752.0,1572.7 C762.7,1569.5 773.3,1563.8 784.0,1557.8 C794.7,1551.8 805.3,1545.4 816.0,1536.5 C826.7,1527.6 837.3,1515.6 848.0,1504.5 C858.7,1493.4 871.3,1479.8 880.0,1470.0 C888.7,1460.2 893.2,1454.0 900.0,1446.0 C906.8,1438.0 913.9,1430.2 921.0,1422.0 C928.1,1413.8 935.4,1405.0 942.6,1397.0 C949.8,1389.0 956.9,1380.8 964.0,1373.7 C971.1,1366.6 976.2,1362.0 985.0,1354.5 C993.8,1347.0 1006.3,1336.1 1017.0,1329.0 C1027.7,1321.9 1038.3,1316.3 1049.0,1311.8 C1059.7,1307.3 1070.3,1304.3 1081.0,1302.0 C1091.7,1299.7 1104.1,1298.7 1113.0,1298.0 C1121.9,1297.3 1126.7,1297.6 1134.5,1298.0 C1142.3,1298.4 1150.4,1299.0 1160.0,1300.3 C1169.6,1301.6 1181.3,1303.5 1192.0,1305.6 C1202.7,1307.7 1213.3,1309.8 1224.0,1313.0 C1234.7,1316.2 1245.3,1320.9 1256.0,1324.8 C1266.7,1328.7 1277.3,1332.4 1288.0,1336.5 C1298.7,1340.6 1311.2,1345.2 1320.0,1349.3 C1328.8,1353.4 1333.5,1356.0 1341.0,1361.0 C1348.5,1366.0 1356.7,1373.3 1365.0,1379.0 C1373.3,1384.7 1382.4,1390.7 1391.0,1395.4 C1399.6,1400.1 1408.2,1401.5 1416.8,1407.0 C1425.3,1412.5 1433.8,1421.6 1442.3,1428.6 C1450.8,1435.6 1459.5,1443.0 1468.0,1449.0 C1476.5,1455.0 1485.0,1458.6 1493.5,1464.4 C1502.0,1470.2 1510.5,1477.8 1519.0,1483.6 C1527.5,1489.4 1536.9,1494.1 1544.7,1499.0 C1552.5,1503.9 1561.1,1509.8 1566.0,1513.0 C1570.9,1516.2 1572.7,1517.4 1574.0,1518.3" stroke="#a800e0"/>
<path d="M365.0,1234.0 C366.0,1234.7 369.2,1236.5 371.0,1238.0 C372.8,1239.5 374.3,1240.8 376.0,1243.0 C377.7,1245.2 379.7,1248.3 381.0,1251.0 C382.3,1253.7 382.7,1256.8 384.0,1259.0 C385.3,1261.2 386.9,1262.6 389.0,1264.0 C391.1,1265.4 393.1,1267.0 396.7,1267.4 C400.2,1267.8 405.0,1266.2 410.3,1266.3 C415.6,1266.4 423.1,1267.2 428.4,1268.1 C433.7,1269.0 437.5,1269.7 442.0,1271.7 C446.5,1273.7 451.1,1276.9 455.6,1279.9 C460.1,1282.9 464.7,1286.5 469.2,1289.9 C473.7,1293.3 477.2,1294.7 482.4,1300.5 C487.5,1306.3 495.1,1316.7 500.1,1324.7 C505.1,1332.8 508.4,1340.8 512.2,1348.8 C516.0,1356.8 518.7,1364.4 522.7,1373.0 C526.7,1381.6 531.7,1391.8 536.0,1400.4 C540.3,1409.0 544.6,1416.5 548.3,1424.5 C552.0,1432.5 554.8,1440.7 558.0,1448.7 C561.2,1456.8 564.4,1464.8 567.6,1472.8 C570.8,1480.8 573.7,1489.0 577.3,1497.0 C580.9,1505.0 585.0,1513.0 589.4,1521.0 C593.8,1529.0 598.7,1538.2 603.9,1545.3 C609.1,1552.4 613.9,1558.5 620.8,1563.4 C627.6,1568.4 636.8,1571.1 645.0,1575.0 C653.2,1578.9 660.8,1583.8 670.0,1587.0 C679.2,1590.2 689.9,1592.4 700.0,1594.0 C710.1,1595.6 720.2,1596.0 730.6,1596.5 C741.0,1597.0 752.0,1598.1 762.6,1597.0 C773.2,1595.9 783.9,1593.7 794.5,1590.0 C805.1,1586.3 815.8,1581.1 826.5,1575.0 C837.2,1568.9 847.8,1561.7 858.5,1553.5 C869.2,1545.3 880.1,1535.9 890.5,1526.0 C900.9,1516.1 912.3,1503.0 921.0,1494.0 C929.7,1485.0 935.4,1478.9 942.6,1472.0 C949.8,1465.1 956.9,1458.7 964.0,1452.6 C971.1,1446.5 976.2,1441.9 985.0,1435.5 C993.8,1429.1 1006.3,1420.4 1017.0,1414.0 C1027.7,1407.6 1038.3,1401.6 1049.0,1397.0 C1059.7,1392.4 1070.3,1389.3 1081.0,1386.5 C1091.7,1383.7 1099.8,1381.8 1113.0,1380.0 C1126.2,1378.2 1146.8,1376.7 1160.0,1376.0 C1173.2,1375.3 1181.3,1375.3 1192.0,1376.0 C1202.7,1376.7 1213.3,1378.6 1224.0,1380.2 C1234.7,1381.8 1245.3,1383.5 1256.0,1385.5 C1266.7,1387.5 1277.3,1389.2 1288.0,1392.0 C1298.7,1394.8 1311.3,1399.3 1320.0,1402.6 C1328.7,1405.9 1332.4,1408.9 1340.0,1412.0 C1347.6,1415.1 1357.1,1417.8 1365.6,1421.0 C1374.1,1424.2 1382.5,1427.4 1391.0,1431.2 C1399.5,1435.0 1408.2,1439.5 1416.8,1444.0 C1425.3,1448.5 1433.8,1453.7 1442.3,1458.0 C1450.8,1462.3 1459.5,1465.8 1468.0,1469.6 C1476.5,1473.4 1485.0,1477.2 1493.5,1481.0 C1502.0,1484.8 1510.5,1488.5 1519.0,1492.6 C1527.5,1496.7 1536.9,1501.3 1544.7,1505.4 C1552.5,1509.5 1561.1,1514.3 1566.0,1517.0 C1570.9,1519.7 1572.7,1520.6 1574.0,1521.4" stroke="#00bf00"/>
<path d="M365.0,1249.0 C366.0,1249.7 369.2,1251.5 371.0,1253.0 C372.8,1254.5 374.3,1254.7 376.0,1258.0 C377.7,1261.3 379.4,1268.2 381.3,1272.6 C383.2,1277.0 384.3,1281.4 387.6,1284.4 C390.9,1287.4 395.9,1289.6 401.2,1290.8 C406.5,1292.0 413.2,1291.1 419.3,1291.7 C425.4,1292.3 432.2,1293.1 437.5,1294.4 C442.8,1295.8 446.5,1297.5 451.0,1299.8 C455.5,1302.1 459.8,1305.1 464.6,1308.0 C469.4,1310.9 474.5,1312.0 480.0,1317.0 C485.5,1322.0 492.1,1330.5 497.7,1338.0 C503.3,1345.5 508.2,1355.3 513.8,1362.0 C519.4,1368.7 526.3,1372.5 531.5,1378.0 C536.7,1383.5 540.9,1389.3 545.0,1395.0 C549.1,1400.7 552.2,1406.1 556.0,1412.0 C559.8,1417.9 563.3,1423.5 567.6,1430.6 C571.9,1437.7 577.2,1447.7 582.0,1454.7 C586.8,1461.7 591.1,1466.8 596.6,1472.8 C602.1,1478.8 608.7,1485.3 614.7,1491.0 C620.8,1496.7 625.4,1502.1 632.9,1506.7 C640.4,1511.3 649.0,1513.0 660.0,1518.7 C671.0,1524.4 686.8,1533.5 698.6,1540.7 C710.4,1547.9 719.9,1554.2 730.6,1562.0 C741.3,1569.8 753.7,1581.2 762.6,1587.6 C771.5,1594.0 777.8,1597.8 784.0,1600.4 C790.2,1603.0 795.0,1602.6 800.0,1603.0 C805.0,1603.4 808.8,1603.4 814.0,1602.6 C819.2,1601.8 823.9,1601.0 831.0,1598.4 C838.1,1595.9 848.2,1591.1 856.8,1587.3 C865.3,1583.5 873.8,1579.8 882.3,1575.4 C890.8,1571.0 899.2,1566.6 908.0,1561.0 C916.8,1555.4 925.7,1548.7 935.0,1542.0 C944.3,1535.3 955.7,1526.8 964.0,1521.0 C972.3,1515.2 977.9,1511.8 985.0,1507.0 C992.1,1502.2 997.7,1498.0 1006.6,1492.0 C1015.5,1486.0 1027.9,1477.7 1038.6,1471.0 C1049.3,1464.3 1059.9,1457.6 1070.6,1452.0 C1081.3,1446.4 1091.9,1442.0 1102.6,1437.5 C1113.2,1433.0 1124.9,1428.3 1134.5,1425.0 C1144.1,1421.7 1150.4,1420.3 1160.0,1417.5 C1169.6,1414.7 1181.3,1410.5 1192.0,1408.0 C1202.7,1405.5 1213.3,1403.8 1224.0,1402.6 C1234.7,1401.3 1245.3,1400.8 1256.0,1400.5 C1266.7,1400.2 1277.3,1400.2 1288.0,1400.5 C1298.7,1400.8 1311.3,1401.8 1320.0,1402.6 C1328.7,1403.3 1332.4,1404.3 1340.0,1405.0 C1347.6,1405.7 1357.1,1406.0 1365.6,1407.0 C1374.1,1408.0 1382.5,1409.2 1391.0,1410.7 C1399.5,1412.2 1408.2,1414.1 1416.8,1415.8 C1425.3,1417.5 1433.8,1419.3 1442.3,1421.0 C1450.8,1422.7 1459.5,1423.9 1468.0,1426.0 C1476.5,1428.1 1485.0,1430.9 1493.5,1433.7 C1502.0,1436.5 1510.5,1439.9 1519.0,1442.7 C1527.5,1445.5 1536.9,1448.3 1544.7,1450.4 C1552.5,1452.5 1561.1,1454.3 1566.0,1455.5 C1570.9,1456.7 1572.7,1457.1 1574.0,1457.4" stroke="#ffff00"/>
<path d="M365.0,1312.0 C366.0,1312.7 369.2,1314.3 371.0,1316.0 C372.8,1317.7 374.0,1319.4 376.0,1322.0 C378.0,1324.6 380.6,1326.9 383.0,1331.5 C385.4,1336.1 387.4,1345.2 390.4,1349.6 C393.4,1354.0 396.4,1355.7 401.2,1357.8 C406.0,1359.9 413.2,1360.9 419.3,1362.3 C425.4,1363.7 431.4,1364.5 437.5,1366.0 C443.6,1367.5 449.6,1369.5 455.6,1371.4 C461.6,1373.4 467.7,1375.4 473.7,1377.7 C479.7,1380.0 486.5,1382.3 491.8,1385.0 C497.1,1387.7 500.1,1390.5 505.4,1394.0 C510.7,1397.5 516.4,1401.7 523.5,1405.8 C530.6,1409.9 541.1,1413.4 548.3,1418.5 C555.4,1423.6 560.4,1430.6 566.4,1436.6 C572.4,1442.6 577.5,1449.3 584.5,1454.7 C591.5,1460.1 600.6,1464.8 608.7,1469.2 C616.8,1473.6 624.4,1477.9 632.9,1481.3 C641.4,1484.7 652.1,1487.0 660.0,1489.8 C667.9,1492.6 671.8,1493.1 680.0,1498.0 C688.2,1502.9 700.6,1511.2 709.0,1519.0 C717.4,1526.8 724.2,1536.4 730.6,1545.0 C737.0,1553.6 742.3,1562.4 747.6,1570.6 C752.9,1578.8 757.2,1587.1 762.6,1594.0 C768.0,1600.9 774.3,1605.7 780.0,1612.0 C785.7,1618.3 791.3,1626.9 797.0,1631.6 C802.7,1636.3 806.9,1638.0 814.0,1640.0 C821.1,1642.0 831.2,1643.4 839.7,1643.6 C848.2,1643.8 858.6,1641.7 865.3,1641.0 C872.0,1640.3 872.9,1641.1 880.0,1639.4 C887.1,1637.7 898.8,1633.7 908.2,1630.9 C917.6,1628.1 927.0,1625.8 936.4,1622.5 C945.8,1619.2 955.2,1615.3 964.6,1611.2 C974.0,1607.1 983.8,1601.8 992.8,1597.8 C1001.8,1593.8 1010.2,1591.0 1018.8,1587.3 C1027.4,1583.6 1035.9,1579.1 1044.4,1575.4 C1052.9,1571.7 1059.1,1570.4 1070.0,1565.0 C1080.9,1559.6 1096.7,1550.3 1110.0,1543.0 C1123.3,1535.7 1138.0,1527.6 1150.0,1521.3 C1162.0,1515.0 1171.3,1510.3 1182.0,1505.3 C1192.7,1500.3 1203.3,1495.7 1214.0,1491.4 C1224.7,1487.1 1235.3,1483.4 1246.0,1479.7 C1256.7,1476.0 1267.3,1472.4 1278.0,1469.0 C1288.7,1465.6 1299.7,1462.1 1310.0,1459.4 C1320.3,1456.7 1330.7,1454.7 1340.0,1453.0 C1349.3,1451.3 1357.1,1450.5 1365.6,1449.0 C1374.1,1447.5 1382.5,1445.5 1391.0,1444.0 C1399.5,1442.5 1408.2,1441.2 1416.8,1440.0 C1425.3,1438.8 1433.8,1437.8 1442.3,1437.0 C1450.8,1436.2 1459.5,1435.4 1468.0,1435.0 C1476.5,1434.6 1485.0,1434.4 1493.5,1434.4 C1502.0,1434.4 1510.5,1434.7 1519.0,1435.0 C1527.5,1435.3 1536.9,1436.0 1544.7,1436.3 C1552.5,1436.6 1561.1,1436.8 1566.0,1437.0 C1570.9,1437.2 1572.7,1437.2 1574.0,1437.3" stroke="#ff5e00"/>
<path d="M365.0,1339.0 C366.0,1339.7 369.2,1341.2 371.0,1343.0 C372.8,1344.8 374.3,1347.2 376.0,1350.0 C377.7,1352.8 379.8,1357.0 381.0,1360.0 C382.2,1363.0 381.5,1363.5 383.1,1367.8 C384.7,1372.1 387.4,1381.1 390.4,1385.9 C393.4,1390.7 396.4,1393.7 401.2,1396.7 C406.0,1399.7 413.2,1401.7 419.3,1404.0 C425.4,1406.3 431.4,1408.3 437.5,1410.3 C443.6,1412.3 449.6,1414.3 455.6,1415.8 C461.6,1417.3 467.7,1418.4 473.7,1419.4 C479.7,1420.5 485.8,1421.2 491.8,1422.1 C497.8,1423.0 504.5,1424.0 509.9,1424.8 C515.3,1425.6 517.6,1425.0 524.0,1427.0 C530.4,1429.0 540.2,1433.4 548.3,1436.6 C556.4,1439.8 564.5,1443.7 572.5,1446.3 C580.5,1448.9 588.6,1450.5 596.6,1452.3 C604.6,1454.1 612.7,1455.6 620.8,1457.0 C628.9,1458.4 635.6,1459.0 645.0,1460.8 C654.4,1462.6 666.6,1464.0 677.3,1468.0 C688.0,1472.0 700.1,1478.2 709.0,1485.0 C717.9,1491.8 724.2,1500.1 730.6,1508.7 C737.0,1517.3 742.3,1527.0 747.6,1536.5 C752.9,1546.0 758.0,1557.1 762.6,1566.0 C767.2,1574.9 771.6,1583.3 775.0,1590.0 C778.4,1596.7 780.5,1600.8 783.0,1606.0 C785.5,1611.2 787.1,1615.3 790.0,1621.0 C792.9,1626.7 796.5,1634.8 800.5,1640.0 C804.5,1645.2 808.9,1648.6 814.0,1652.0 C819.1,1655.4 823.9,1658.2 831.0,1660.6 C838.1,1663.0 848.2,1665.3 856.8,1666.6 C865.3,1667.9 873.8,1668.0 882.3,1668.3 C890.8,1668.6 899.5,1668.7 908.0,1668.3 C916.5,1667.9 925.0,1667.1 933.5,1665.8 C942.0,1664.5 950.5,1662.7 959.0,1660.6 C967.5,1658.5 976.2,1655.8 984.7,1653.0 C993.2,1650.2 1001.5,1646.9 1010.0,1643.6 C1018.5,1640.3 1027.4,1636.4 1036.0,1633.3 C1044.6,1630.2 1053.0,1627.6 1061.5,1624.8 C1070.0,1622.0 1078.4,1619.5 1087.0,1616.5 C1095.6,1613.5 1102.5,1611.2 1113.0,1607.0 C1123.5,1602.8 1138.5,1596.8 1150.0,1591.6 C1161.5,1586.4 1171.3,1581.3 1182.0,1575.6 C1192.7,1569.9 1203.3,1563.5 1214.0,1557.5 C1224.7,1551.5 1235.3,1545.1 1246.0,1539.4 C1256.7,1533.7 1267.3,1528.7 1278.0,1523.4 C1288.7,1518.1 1299.7,1512.3 1310.0,1507.4 C1320.3,1502.5 1330.7,1498.3 1340.0,1493.9 C1349.3,1489.5 1357.1,1485.3 1365.6,1481.0 C1374.1,1476.7 1382.5,1472.1 1391.0,1468.3 C1399.5,1464.5 1408.2,1461.1 1416.8,1458.0 C1425.3,1454.9 1433.8,1452.5 1442.3,1449.7 C1450.8,1446.9 1459.5,1444.1 1468.0,1441.4 C1476.5,1438.7 1485.0,1435.8 1493.5,1433.7 C1502.0,1431.6 1510.5,1430.0 1519.0,1428.6 C1527.5,1427.2 1536.9,1426.2 1544.7,1425.4 C1552.5,1424.7 1561.1,1424.4 1566.0,1424.1 C1570.9,1423.8 1572.7,1423.7 1574.0,1423.6" stroke="#ff0000"/>
</g>
<g fill="#000">
<rect x="370.5" y="1018" width="10.4" height="789.3"/>
<rect x="354.5" y="1778" width="1218.1" height="13.5"/>
<rect x="353.5" y="1683.7" width="18" height="11.4"/>
<rect x="353.5" y="1588.6" width="18" height="11.4"/>
<rect x="353.5" y="1493.5" width="18" height="11.4"/>
<rect x="353.5" y="1398.4" width="18" height="11.4"/>
<rect x="353.5" y="1303.3" width="18" height="11.4"/>
<rect x="353.5" y="1208.2" width="18" height="11.4"/>
<rect x="353.5" y="1113.1" width="18" height="11.4"/>
<rect x="353.5" y="1018.0" width="18" height="11.4"/>
<rect x="608.5" y="1785" width="10.6" height="22.3"/>
<rect x="846.5" y="1785" width="10.6" height="22.3"/>
<rect x="1084.5" y="1785" width="10.6" height="22.3"/>
<rect x="1322.5" y="1785" width="10.6" height="22.3"/>
<rect x="1559" y="1785" width="13.6" height="22.3"/>
</g>
<rect x="1625" y="1108.2" width="82" height="11.2" fill="#ff0000"/>
<rect x="1625" y="1210.8" width="82" height="11.2" fill="#ff5e00"/>
<rect x="1625" y="1313.3" width="82" height="11.2" fill="#ffff00"/>
<rect x="1625" y="1415.8" width="82" height="11.2" fill="#00bf00"/>
<rect x="1625" y="1518.4" width="82" height="11.2" fill="#0000ff"/>
<rect x="1625" y="1621.0" width="82" height="11.2" fill="#a800e0"/>
</svg></body></html>
